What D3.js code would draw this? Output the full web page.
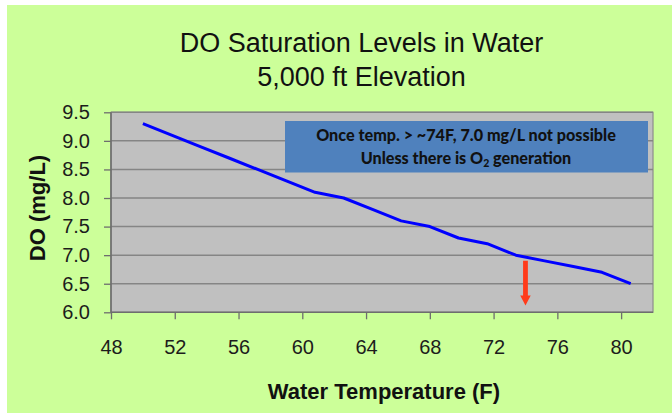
<!DOCTYPE html>
<html>
<head>
<meta charset="utf-8">
<script src="https://cdn.jsdelivr.net/npm/d3@7"></script>
<style>
  html, body { margin: 0; padding: 0; background: #ffffff; }
  svg { display: block; }
</style>
</head>
<body>
<svg id="chart" width="672" height="415"></svg>
<script>
// ---- data ----
const titleLines = ["DO Saturation Levels in Water", "5,000 ft Elevation"];
const temperatureF = [50, 51.8, 53.6, 55.4, 57.2, 59, 60.8, 62.6, 64.4, 66.2, 68, 69.8, 71.6, 73.4, 75.2, 77, 78.8, 80.6];
const doMgL =        [9.3, 9.1, 8.9, 8.7, 8.5, 8.3, 8.1, 8.0, 7.8, 7.6, 7.5, 7.3, 7.2, 7.0, 6.9, 6.8, 6.7, 6.5];
const xTicks = [48, 52, 56, 60, 64, 68, 72, 76, 80];
const yTicks = [6.0, 6.5, 7.0, 7.5, 8.0, 8.5, 9.0, 9.5];
const xDomain = [48, 82];
const yDomain = [6.0, 9.5];
const xTitle = "Water Temperature (F)";
const yTitle = "DO (mg/L)";
const noteLine1 = "Once temp. > ~74F, 7.0 mg/L not possible";
const noteLine2 = ["Unless there is O", "2", " generation"];
const arrowX = [74];
const arrowY = [6.9, 6.12];

// ---- layout ----
const svg = d3.select("#chart");
const plot = { left: 111, top: 112.3, right: 653, bottom: 312.3 };

svg.append("rect").attr("x", 7).attr("y", 5).attr("width", 665).attr("height", 408)
  .attr("fill", "#ccff99");

const x = d3.scaleLinear().domain(xDomain).range([plot.left, plot.right]);
const y = d3.scaleLinear().domain(yDomain).range([plot.bottom, plot.top]);

// plot area
svg.append("rect").attr("x", plot.left).attr("y", plot.top)
  .attr("width", plot.right - plot.left).attr("height", plot.bottom - plot.top)
  .attr("fill", "#c0c0c0").attr("stroke", "#8c8c8c").attr("stroke-width", 1.2);

// gridlines
svg.append("g").selectAll("line").data(yTicks.filter(d => d > yDomain[0]))
  .join("line")
  .attr("x1", plot.left).attr("x2", plot.right)
  .attr("y1", d => y(d)).attr("y2", d => y(d))
  .attr("stroke", "#858585").attr("stroke-width", 1.5);

// axes
const yAxis = svg.append("g").attr("transform", `translate(${plot.left},0)`)
  .call(d3.axisLeft(y).tickValues(yTicks).tickFormat(d3.format(".1f")).tickSize(7).tickPadding(14));
const xAxis = svg.append("g").attr("transform", `translate(0,${plot.bottom})`)
  .call(d3.axisBottom(x).tickValues(xTicks).tickFormat(d3.format("d")).tickSize(7).tickSizeOuter(0));

[yAxis, xAxis].forEach(a => {
  a.select(".domain").attr("stroke", "#6e6e6e").attr("stroke-width", 1.6);
  a.selectAll(".tick line").attr("stroke", "#6e6e6e").attr("stroke-width", 1.3);
  a.selectAll("text").attr("font-family", "Liberation Sans, Arial, sans-serif")
    .attr("font-size", 20).attr("fill", "#1c1c1c");
});
yAxis.select(".domain").attr("d", `M0,${plot.top}V${plot.bottom}`);
xAxis.select(".domain").attr("d", `M${plot.left},0H${plot.right}`);
xAxis.selectAll(".tick text").attr("y", 42).attr("dy", null);

// titles
const title = svg.append("text").attr("text-anchor", "middle")
  .attr("font-family", "Liberation Sans, Arial, sans-serif").attr("font-size", 27).attr("fill", "#111");
title.selectAll("tspan").data(titleLines).join("tspan")
  .attr("x", 361.5).attr("y", (d, i) => 51.7 + i * 34.3).text(d => d);

svg.append("text").attr("x", 384).attr("y", 399).attr("text-anchor", "middle")
  .attr("font-family", "Liberation Sans, Arial, sans-serif").attr("font-weight", "bold")
  .attr("font-size", 22).attr("fill", "#111").text(xTitle);

svg.append("text").attr("transform", "translate(45,208) rotate(-90)").attr("text-anchor", "middle")
  .attr("font-family", "Liberation Sans, Arial, sans-serif").attr("font-weight", "bold")
  .attr("font-size", 22).attr("fill", "#111").text(yTitle);

// data line
const line = d3.line().x((d, i) => x(temperatureF[i])).y(d => y(d));
svg.append("path").datum(doMgL).attr("d", line)
  .attr("fill", "none").attr("stroke", "#0000ff").attr("stroke-width", 3)
  .attr("stroke-linejoin", "round").attr("stroke-linecap", "butt");

// annotation box
svg.append("rect").attr("x", 285).attr("y", 121).attr("width", 363).attr("height", 51.5)
  .attr("fill", "#4f81bd");
const noteFont = "Lato, 'Open Sans', sans-serif";
const t1 = svg.append("text").attr("x", 466).attr("y", 141).attr("text-anchor", "middle")
  .attr("font-family", noteFont).attr("font-weight", 900).attr("font-size", 15)
  .attr("fill", "#111").text(noteLine1);
const w1 = t1.node().getComputedTextLength();
const fs = 15 * 300 / w1;
t1.attr("font-size", fs);
const t2 = svg.append("text").attr("x", 466).attr("y", 164).attr("text-anchor", "middle")
  .attr("font-family", noteFont).attr("font-weight", 900).attr("font-size", fs)
  .attr("fill", "#111");
t2.append("tspan").text(noteLine2[0]);
t2.append("tspan").attr("font-size", fs * 0.65).attr("dy", 3).text(noteLine2[1]);
t2.append("tspan").attr("dy", -3).text(noteLine2[2]);

// arrow
const ax = x(arrowX[0]);
const ay0 = y(arrowY[0]), ay1 = y(arrowY[1]);
const headH = 10, headW = 10.5, shaftW = 4.8;
svg.append("path")
  .attr("d", `M${ax - shaftW / 2},${ay0} H${ax + shaftW / 2} V${ay1 - headH} H${ax + headW / 2} L${ax},${ay1} L${ax - headW / 2},${ay1 - headH} H${ax - shaftW / 2} Z`)
  .attr("fill", "#ff3b1a");
</script>
</body>
</html>
